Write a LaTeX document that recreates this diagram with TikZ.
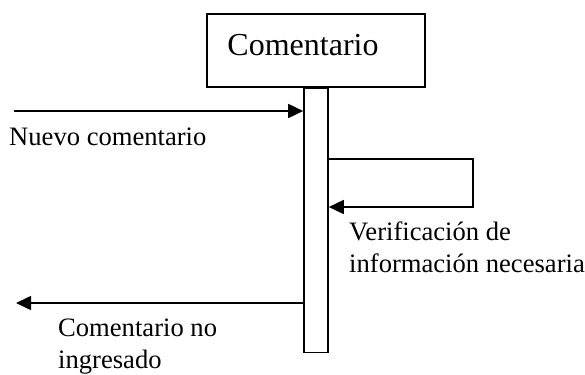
\documentclass[tikz,border=0pt]{standalone}
\usepackage{fontspec}
\setmainfont{Liberation Serif}
\usetikzlibrary{arrows.meta}
\begin{document}
\begin{tikzpicture}[x=1pt,y=-1pt,
  lw/.style={line width=1.6pt},
  msg/.style={lw,-{Triangle[length=15pt,width=14pt]}},
  lbl/.style={inner sep=0pt,align=left,font=\fontsize{26.6}{32}\selectfont},
  ttl/.style={inner sep=0pt,font=\fontsize{32}{38}\selectfont}]
\useasboundingbox (0,0) rectangle (585,374);
\node[draw,lw,minimum width=218pt,minimum height=73pt,inner sep=0pt] (obj) at (316,50.5) {};
\node[ttl,anchor=base] (objtxt) at (303,56) {Comentario};
\node[draw,lw,minimum width=24pt,minimum height=264pt,inner sep=0pt,anchor=north] (life) at (obj.south) {};
\coordinate (a1s) at (14,111);
\draw[msg] (a1s) -- (life.west |- a1s);
\node[lbl,anchor=base west] (l1) at (9,146) {Nuevo comentario};
\coordinate (s1) at (473,159);
\coordinate (s2) at (473,207);
\draw[msg] (life.east |- s1) -- (s1) -- (s2) -- (life.east |- s2);
\node[lbl,anchor=north west] (l2) at (349,221.7) {Verificación de\\información necesaria};
\coordinate (r1) at (16,303);
\draw[msg] (life.west |- r1) -- (r1);
\node[lbl,anchor=north west] (l3) at (58,318.8) {Comentario no\\ingresado};
\end{tikzpicture}
\end{document}
